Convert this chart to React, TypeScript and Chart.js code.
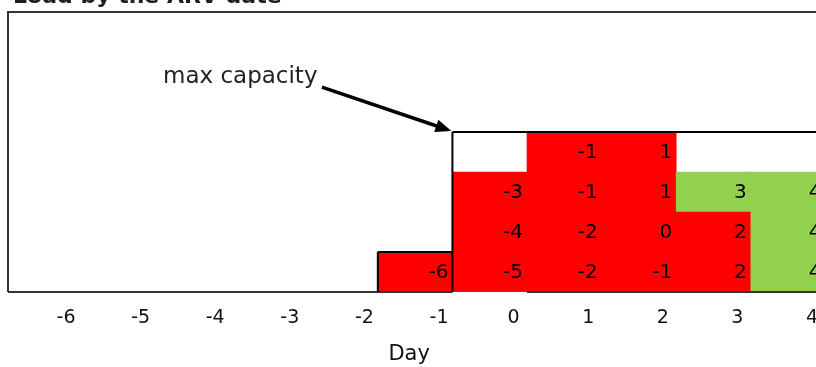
import { useEffect, useRef } from "react";
import { Chart, registerables } from "chart.js";

Chart.register(...registerables);

const TITLE = "Load by the ARV date";
const AXIS_TITLE = "Day";
const NOTE = "max capacity";

// Day axis and the capacity available on each day
const DAYS = [-6, -5, -4, -3, -2, -1, 0, 1, 2, 3, 4];
const CAPACITY = [0, 0, 0, 0, 0, 1, 4, 4, 4, 4, 4];

// Load cells per day, listed from the bottom level up
const LOAD_DAYS = [-1, 0, 1, 2, 3, 4];
const LEVEL_1 = [-6, -5, -2, -1, 2, 4];
const LEVEL_2 = [null, -4, -2, 0, 2, 4];
const LEVEL_3 = [null, -3, -1, 1, 3, 4];
const LEVEL_4 = [null, null, -1, 1, null, null];
const LEVELS = [LEVEL_1, LEVEL_2, LEVEL_3, LEVEL_4];

const RED = "#FF0000";
const GREEN = "#92D050";
const GOOD_FROM = 3; // slack of 3 days or more is shown green

const FONT = '"DejaVu Sans", sans-serif';

// a day's cell runs from 0.82 before the day to 0.18 after it
const CELL_SHIFT = -0.32;
const cellLeft = (d: number) => d + CELL_SHIFT - 0.5;

const X_MIN = -6.7775;
const X_MAX = 4.7775;

// annotation anchors, in axis units
const NOTE_AT = { x: -4.7, y: 5.38 };
const ARROW_FROM = { x: -2.57, y: 5.12 };
const AXIS_TITLE_AT = -1.4;

const datasets = LEVELS.map((level, li) => ({
  label: `level ${li + 1}`,
  data: LOAD_DAYS.flatMap((d, i) =>
    level[i] === null ? [] : [{ x: d + CELL_SHIFT, y: 1, v: level[i] as number }]
  ),
  backgroundColor: (c: any) => (c.raw && c.raw.v >= GOOD_FROM ? GREEN : RED),
  borderWidth: 0,
  barPercentage: 1,
  categoryPercentage: 1,
  stack: "load",
}));

const cellLabels = {
  id: "cellLabels",
  afterDatasetsDraw(chart: any) {
    const { ctx } = chart;
    ctx.save();
    ctx.font = `20px ${FONT}`;
    ctx.fillStyle = "#000";
    ctx.textAlign = "right";
    ctx.textBaseline = "middle";
    chart.data.datasets.forEach((ds: any, i: number) => {
      const meta = chart.getDatasetMeta(i);
      meta.data.forEach((el: any, j: number) => {
        const { x, y, base, width } = el.getProps(["x", "y", "base", "width"], true);
        ctx.fillText(String(ds.data[j].v), x + width / 2 - 4, (y + base) / 2 + 1);
      });
    });
    ctx.restore();
  },
};

const frame = {
  id: "frame",
  afterDatasetsDraw(chart: any) {
    const { ctx, chartArea: a } = chart;
    const xs = chart.scales.x;
    const ys = chart.scales.y;
    const px = (v: number) => xs.getPixelForValue(v);
    const py = (v: number) => ys.getPixelForValue(v);
    ctx.save();

    // title, sitting against the top edge
    ctx.font = `bold 22px ${FONT}`;
    ctx.fillStyle = "#1e1e1e";
    ctx.textAlign = "left";
    ctx.textBaseline = "alphabetic";
    ctx.fillText(TITLE, 13, 3);

    // axis title
    ctx.font = `21px ${FONT}`;
    ctx.fillStyle = "#111";
    ctx.textAlign = "center";
    ctx.textBaseline = "middle";
    ctx.fillText(AXIS_TITLE, px(AXIS_TITLE_AT), 355);

    // plot frame
    ctx.strokeStyle = "#333";
    ctx.lineWidth = 2;
    ctx.beginPath();
    ctx.moveTo(a.left, a.bottom);
    ctx.lineTo(a.left, a.top);
    ctx.lineTo(a.right, a.top);
    ctx.stroke();

    // base line, left open under the first full-capacity day
    const full = Math.max(...CAPACITY);
    const firstFull = DAYS[CAPACITY.indexOf(full)];
    ctx.beginPath();
    ctx.moveTo(a.left, a.bottom);
    ctx.lineTo(px(cellLeft(firstFull)), a.bottom);
    ctx.moveTo(px(cellLeft(firstFull + 1)), a.bottom);
    ctx.lineTo(a.right, a.bottom);
    ctx.stroke();

    // capacity outline
    ctx.strokeStyle = "#000";
    ctx.lineWidth = 2;
    ctx.beginPath();
    let prev = 0;
    DAYS.forEach((d, i) => {
      const c = CAPACITY[i];
      const x0 = px(cellLeft(d));
      const x1 = i === DAYS.length - 1 ? a.right : px(cellLeft(d + 1));
      if (c !== prev) {
        ctx.moveTo(x0, py(0));
        ctx.lineTo(x0, py(Math.max(c, prev)));
      }
      if (c > 0) {
        ctx.moveTo(x0, py(c));
        ctx.lineTo(x1, py(c));
      }
      prev = c;
    });
    ctx.stroke();

    // note with arrow to the max-capacity corner
    ctx.font = `23px ${FONT}`;
    ctx.fillStyle = "#222";
    ctx.textAlign = "left";
    ctx.textBaseline = "middle";
    ctx.fillText(NOTE, px(NOTE_AT.x), py(NOTE_AT.y));

    const sx = px(ARROW_FROM.x);
    const sy = py(ARROW_FROM.y);
    const tx = px(cellLeft(firstFull)) - 1;
    const ty = py(full) - 1;
    const ang = Math.atan2(ty - sy, tx - sx);
    const head = 16;
    const half = 6.5;
    const bx = tx - head * Math.cos(ang);
    const by = ty - head * Math.sin(ang);
    ctx.strokeStyle = "#000";
    ctx.lineWidth = 3.5;
    ctx.beginPath();
    ctx.moveTo(sx, sy);
    ctx.lineTo(bx + 2 * Math.cos(ang), by + 2 * Math.sin(ang));
    ctx.stroke();
    ctx.fillStyle = "#000";
    ctx.beginPath();
    ctx.moveTo(tx, ty);
    ctx.lineTo(bx + half * Math.sin(ang), by - half * Math.cos(ang));
    ctx.lineTo(bx - half * Math.sin(ang), by + half * Math.cos(ang));
    ctx.closePath();
    ctx.fill();

    ctx.restore();
  },
};

export default function App() {
  const canvasRef = useRef<HTMLCanvasElement | null>(null);

  useEffect(() => {
    if (!canvasRef.current) return;
    const chart = new Chart(canvasRef.current, {
      type: "bar",
      data: { datasets: datasets as any },
      options: {
        animation: false,
        responsive: true,
        maintainAspectRatio: false,
        events: [],
        layout: { padding: { left: 8, top: 12, right: 10, bottom: 0 } },
        plugins: {
          legend: { display: false },
          tooltip: { enabled: false },
          title: { display: false },
        },
        scales: {
          x: {
            type: "linear",
            min: X_MIN,
            max: X_MAX,
            offset: false,
            stacked: true,
            grid: { display: false, drawTicks: false, offset: false },
            border: { display: false },
            afterBuildTicks: (s: any) => {
              s.ticks = DAYS.map((v) => ({ value: v }));
            },
            afterFit: (s: any) => {
              s.height = 75;
            },
            ticks: {
              autoSkip: false,
              maxRotation: 0,
              padding: 15,
              color: "#111",
              font: { family: FONT, size: 19 },
              callback: (v: any) => String(v),
            },
            title: { display: false },
          },
          y: { type: "linear", min: 0, max: 7, stacked: true, display: false },
        },
      } as any,
      plugins: [cellLabels, frame],
    });
    return () => chart.destroy();
  }, []);

  return (
    <div
      style={{
        position: "fixed",
        left: 0,
        top: 0,
        width: 816,
        height: 367,
        overflow: "hidden",
        background: "#fff",
      }}
    >
      <div style={{ position: "relative", width: 880, height: 367 }}>
        <canvas ref={canvasRef} style={{ display: "block" }} />
      </div>
    </div>
  );
}
